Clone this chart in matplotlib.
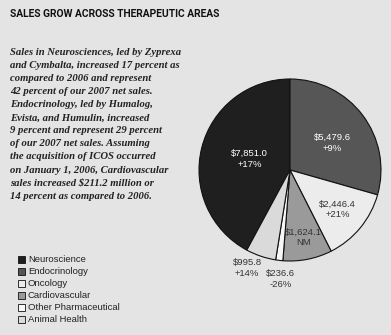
import numpy as np
import matplotlib.pyplot as plt

# 2007 net sales by therapeutic area ($ millions), legend order
areas = ['Neuroscience', 'Endocrinology', 'Oncology', 'Cardiovascular',
         'Other Pharmaceutical', 'Animal Health']
sales = [7851.0, 5479.6, 2446.4, 1624.1, 236.6, 995.8]
growth = ['+17%', '+9%', '+21%', 'NM', '-26%', '+14%']
colors = ['#1f1f1f', '#565656', '#ececec', '#9a9a9a', '#f7f7f7', '#dadada']
text_colors = ['white', 'white', '#333333', '#333333', '#333333', '#333333']
# label placement: radius fraction and angle shift from wedge middle
label_dist = [0.46, 0.55, 0.68, 0.755, 1.2, 1.175]
label_shift = [-1.2, -4.6, 0.0, -0.2, 1.7, -4.9]

body = ("Sales in Neurosciences, led by Zyprexa\n"
        "and Cymbalta, increased 17 percent as\n"
        "compared to 2006 and represent\n"
        "42 percent of our 2007 net sales.\n"
        "Endocrinology, led by Humalog,\n"
        "Evista, and Humulin, increased\n"
        "9 percent and represent 29 percent\n"
        "of our 2007 net sales. Assuming\n"
        "the acquisition of ICOS occurred\n"
        "on January 1, 2006, Cardiovascular\n"
        "sales increased $211.2 million or\n"
        "14 percent as compared to 2006.")

bg = '#e4e4e4'
W, H = 391, 335
fig = plt.figure(figsize=(W / 100, H / 100), dpi=100, facecolor=bg)

fig.text(10 / W, 1 - 14 / H, 'SALES GROW ACROSS THERAPEUTIC AREAS',
         fontsize=7.4, fontweight='bold', family='Roboto', color='#111111',
         va='center', ha='left')

fig.text(10 / W, 1 - 48 / H, body, fontsize=7.7, family='Liberation Serif',
         style='italic', fontweight='bold', color='#222222', va='top', ha='left',
         linespacing=1.58)

# pie
cx, cy, r = 290, 170, 91
ax = fig.add_axes([(cx - r) / W, (H - cy - r) / H, 2 * r / W, 2 * r / H])
ax.set_facecolor(bg)
start = 90 + 360 * sales[0] / sum(sales)
wedges, _ = ax.pie(sales, colors=colors, startangle=start, counterclock=False,
                   wedgeprops=dict(edgecolor='#111111', linewidth=0.8))
ax.set_xlim(-1, 1)
ax.set_ylim(-1, 1)
ax.axis('off')

for w, s, g, tc, d, sh in zip(wedges, sales, growth, text_colors,
                              label_dist, label_shift):
    ang = np.deg2rad((w.theta1 + w.theta2) / 2 + sh)
    ax.text(d * np.cos(ang), d * np.sin(ang), f'${s:,.1f}\n{g}',
            ha='center', va='center', fontsize=6.8, color=tc,
            family='Liberation Sans', linespacing=1.25)

# legend
for i, (a, c) in enumerate(zip(areas, colors)):
    y = 1 - (259 + 12 * i) / H
    fig.patches.append(plt.Rectangle((18 / W, y - 3.5 / H), 7 / W, 7 / H,
                                     transform=fig.transFigure, facecolor=c,
                                     edgecolor='#111111', linewidth=0.6))
    fig.text(28 / W, y, a, fontsize=6.8, family='Liberation Sans',
             color='#222222', va='center', ha='left')

fig.savefig('out.png', dpi=100, facecolor=bg)
